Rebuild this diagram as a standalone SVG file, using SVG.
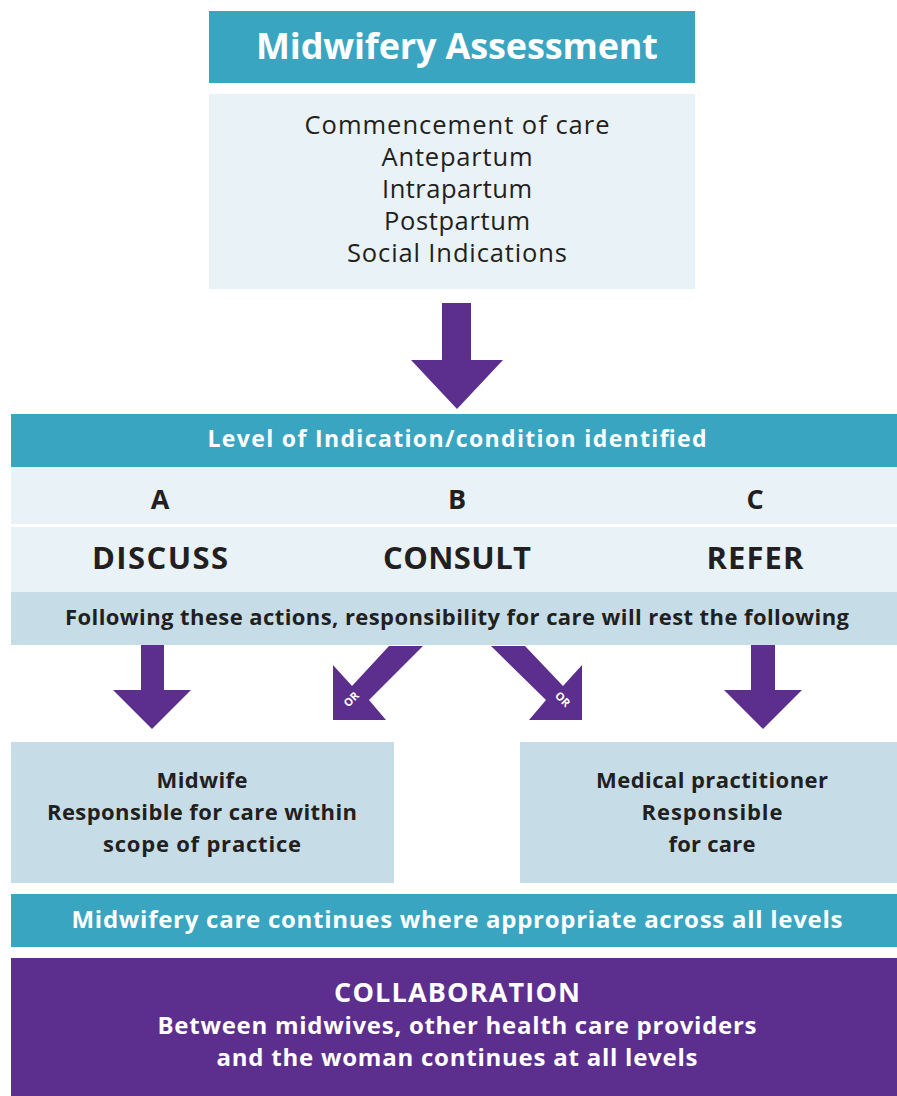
<svg xmlns="http://www.w3.org/2000/svg" width="897" height="1096" viewBox="0 0 897 1096">
<style>
.teal{fill:#3aa5c1}
.pale{fill:#e9f2f6}
.mid{fill:#c6dde8}
.purple{fill:#5c2f8f}
text{font-family:"Open Sans",Lato,"Liberation Sans",sans-serif;text-anchor:middle}
.w{fill:#ffffff;font-weight:700}
.d{fill:#231f20}
.b{font-weight:700}
.m{font-weight:500}
</style>
<rect width="897" height="1096" fill="#ffffff"/>

<g id="header">
<rect x="209" y="11" width="486" height="72" class="teal"/>
<text x="457" y="59" class="w" font-size="36" textLength="402">Midwifery Assessment</text>
</g>
<g id="assessment-list">
<rect x="209" y="94" width="486" height="195" class="pale"/>
<text x="457" y="134" class="d m" font-size="25.5" textLength="305">Commencement of care</text>
<text x="457" y="166" class="d m" font-size="25.5" textLength="151">Antepartum</text>
<text x="457" y="198" class="d m" font-size="25.5" textLength="150">Intrapartum</text>
<text x="457" y="230" class="d m" font-size="25.5" textLength="146">Postpartum</text>
<text x="457" y="262" class="d m" font-size="25.5" textLength="220">Social Indications</text>
</g>

<g id="level-header">
<rect x="11" y="414" width="886" height="53" class="teal"/>
<text x="457" y="447" class="w" font-size="23" textLength="499">Level of Indication/condition identified</text>
</g>
<g id="levels">
<rect x="11" y="467" width="886" height="57" class="pale"/>
<text x="160" y="509" class="d b" font-size="27">A</text>
<text x="457" y="509" class="d b" font-size="27">B</text>
<text x="755" y="509" class="d b" font-size="27">C</text>
</g>
<g id="actions">
<rect x="11" y="527" width="886" height="65" class="pale"/>
<text x="160" y="569" class="d b" font-size="31" textLength="136">DISCUSS</text>
<text x="457" y="569" class="d b" font-size="31" textLength="148">CONSULT</text>
<text x="755" y="569" class="d b" font-size="31" textLength="97">REFER</text>
</g>
<g id="following">
<rect x="11" y="592" width="886" height="53" class="mid"/>
<text x="457" y="625" class="d b" font-size="22" textLength="784">Following these actions, responsibility for care will rest the following</text>
</g>

<g id="midwife">
<rect x="11" y="742" width="383" height="141" class="mid"/>
<text x="202" y="788" class="d b" font-size="22" textLength="91">Midwife</text>
<text x="202" y="820" class="d b" font-size="22" textLength="310">Responsible for care within</text>
<text x="202" y="852" class="d b" font-size="22" textLength="198">scope of practice</text>
</g>
<g id="medical">
<rect x="520" y="742" width="377" height="141" class="mid"/>
<text x="712" y="788" class="d b" font-size="22" textLength="232">Medical practitioner</text>
<text x="712" y="820" class="d b" font-size="22" textLength="141">Responsible</text>
<text x="712" y="852" class="d b" font-size="22" textLength="87">for care</text>
</g>

<g id="continues">
<rect x="11" y="894" width="886" height="53" class="teal"/>
<text x="457" y="928" class="w" font-size="24" textLength="771">Midwifery care continues where appropriate across all levels</text>
</g>
<g id="collaboration">
<rect x="11" y="958" width="886" height="138" class="purple"/>
<text x="457" y="1002" class="w" font-size="27" textLength="246">COLLABORATION</text>
<text x="457" y="1034" class="w" font-size="24" textLength="599">Between midwives, other health care providers</text>
<text x="457" y="1066" class="w" font-size="24" textLength="481">and the woman continues at all levels</text>
</g>

<g id="connectors">
<path d="M442,303 L471,303 L471,360 L503,360 L457,409 L411,360 L442,360 Z" class="purple"/>
<path d="M141,645 L164,645 L164,690 L191,690 L152,729 L113,690 L141,690 Z" class="purple"/>
<path d="M751,645 L775,645 L775,690 L802,690 L763,729 L724,690 L751,690 Z" class="purple"/>
<path d="M389,646 L423,646 L369,700 L386,720 L333,720 L333,665 L352,686 Z" class="purple"/>
<path d="M491,646 L525,646 L563,686 L582,665 L582,720 L529,720 L546,700 Z" class="purple"/>
<text x="0" y="0" class="w" font-size="11" transform="translate(354,702) rotate(-45)">OR</text>
<text x="0" y="0" class="w" font-size="11" transform="translate(560,702) rotate(45)">OR</text>
</g>
</svg>
